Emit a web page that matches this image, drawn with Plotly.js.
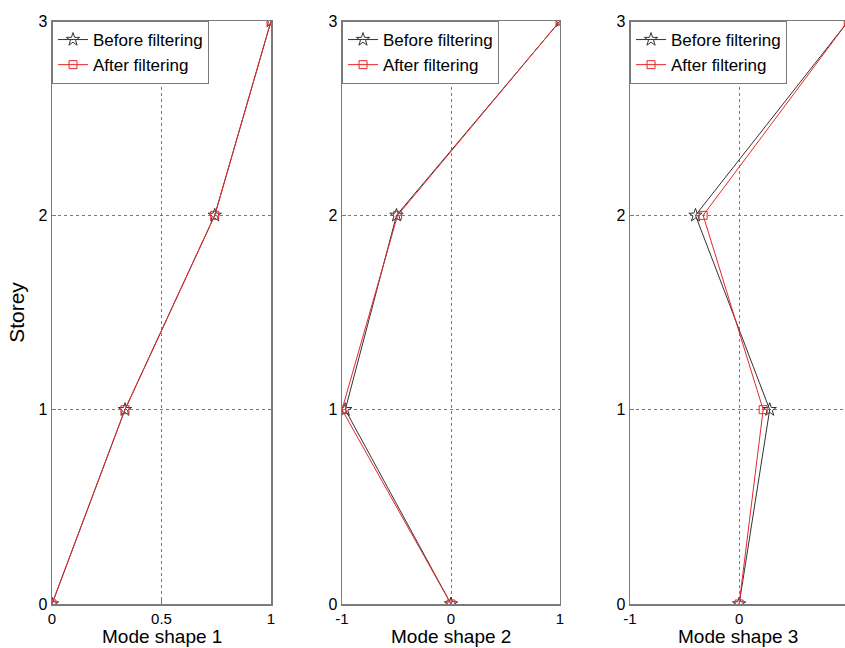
<!DOCTYPE html>
<html>
<head>
<meta charset="utf-8">
<script src="https://cdn.plot.ly/plotly-3.0.1.min.js"></script>
<style>html,body{margin:0;padding:0;background:#fff;}#chart{width:845px;height:648px;}</style>
</head>
<body>
<div id="chart"></div>
<script>
const storey = [0, 1, 2, 3];
const mode1Before = [0, 0.333, 0.743, 1];
const mode1After  = [0, 0.333, 0.743, 1];
const mode2Before = [0, -0.97, -0.50, 1];
const mode2After  = [0, -1.00, -0.49, 1];
const mode3Before = [0, 0.28, -0.40, 1];
const mode3After  = [0, 0.22, -0.33, 1];
const seriesNames = ["Before filtering", "After filtering"];
const xTitles = ["Mode shape 1", "Mode shape 2", "Mode shape 3"];
const yTitle = "Storey";

const FONT = "Liberation Sans, Arial, sans-serif";
const before = [mode1Before, mode2Before, mode3Before];
const after = [mode1After, mode2After, mode3After];
const traces = [];
for (let i = 0; i < 3; i++) {
  const sx = i === 0 ? "" : String(i + 1);
  const leg = i === 0 ? "legend" : "legend" + (i + 1);
  traces.push({
    x: before[i], y: storey, xaxis: "x" + sx, yaxis: "y" + sx, legend: leg,
    name: seriesNames[0], mode: "lines+markers",
    line: {color: "#333", width: 1},
    marker: {symbol: "star-open", size: 10, color: "#333", line: {width: 1}}
  });
  traces.push({
    x: after[i], y: storey, xaxis: "x" + sx, yaxis: "y" + sx, legend: leg,
    name: seriesNames[1], mode: "lines+markers",
    line: {color: "#e8262a", width: 1},
    marker: {symbol: "square-open", size: 8, color: "#e8262a", line: {width: 1}}
  });
}

const domains = [[0, 0.2762], [0.3657, 0.6406], [0.7289, 1]];
const xRanges = [[0, 1], [-1, 1], [-1, 0.97]];
const xTicks = [[0, 0.5, 1], [-1, 0, 1], [-1, 0, 1]];
const xTickText = [["0", "0.5", "1"], ["-1", "0", "1"], ["-1", "0", "1"]];

const layout = {
  width: 845, height: 648,
  margin: {l: 52, r: 0, t: 21, b: 44},
  paper_bgcolor: "#fff", plot_bgcolor: "#fff",
  font: {family: FONT, size: 15, color: "#000"},
  showlegend: true,
  annotations: []
};
for (let i = 0; i < 3; i++) {
  const sx = i === 0 ? "" : String(i + 1);
  layout["xaxis" + sx] = {
    domain: domains[i], range: xRanges[i], anchor: "y" + sx,
    tickmode: "array", tickvals: xTicks[i], ticktext: xTickText[i],
    showgrid: true, gridcolor: "#7a7a7a", griddash: "dot", gridwidth: 1,
    zeroline: false, showline: true, linecolor: "#7a7a7a", linewidth: 1.5, mirror: true,
    ticks: "inside", ticklen: 4, tickcolor: "#7a7a7a",
    tickfont: {size: 15, color: "#000", family: FONT},
    ticklabelstandoff: 0,
    fixedrange: true
  };
  layout["yaxis" + sx] = {
    domain: [0, 1], range: [0, 3], anchor: "x" + sx,
    tickmode: "array", tickvals: [0, 1, 2, 3],
    showgrid: true, gridcolor: "#7a7a7a", griddash: "dot", gridwidth: 1,
    zeroline: false, showline: true, linecolor: "#7a7a7a", linewidth: 1.5, mirror: true,
    ticks: "inside", ticklen: 4, tickcolor: "#7a7a7a",
    tickfont: {size: 16, color: "#000", family: FONT},
    ticklabelstandoff: 0,
    fixedrange: true
  };
  if (i === 0) layout.yaxis.title = {text: yTitle, font: {size: 21, family: FONT, color: "#000"}, standoff: 8};
  layout.annotations.push({
    text: xTitles[i], xref: "paper", yref: "paper",
    x: (domains[i][0] + Math.min(domains[i][1], domains[i][0] + 0.2762)) / 2,
    y: -44 / 583, xanchor: "center", yanchor: "bottom", showarrow: false,
    font: {size: 19, family: FONT, color: "#000"}, borderpad: 0
  });
  const leg = i === 0 ? "legend" : "legend" + (i + 1);
  layout[leg] = {
    x: domains[i][0], y: 1, xanchor: "left", yanchor: "top",
    xref: "paper", yref: "paper",
    bgcolor: "#fff", bordercolor: "#7a7a7a", borderwidth: 1,
    font: {size: 17, family: FONT, color: "#000"},
    itemwidth: 30, tracegroupgap: 0
  };
}
Plotly.newPlot("chart", traces, layout, {displayModeBar: false, staticPlot: true});
</script>
</body>
</html>
